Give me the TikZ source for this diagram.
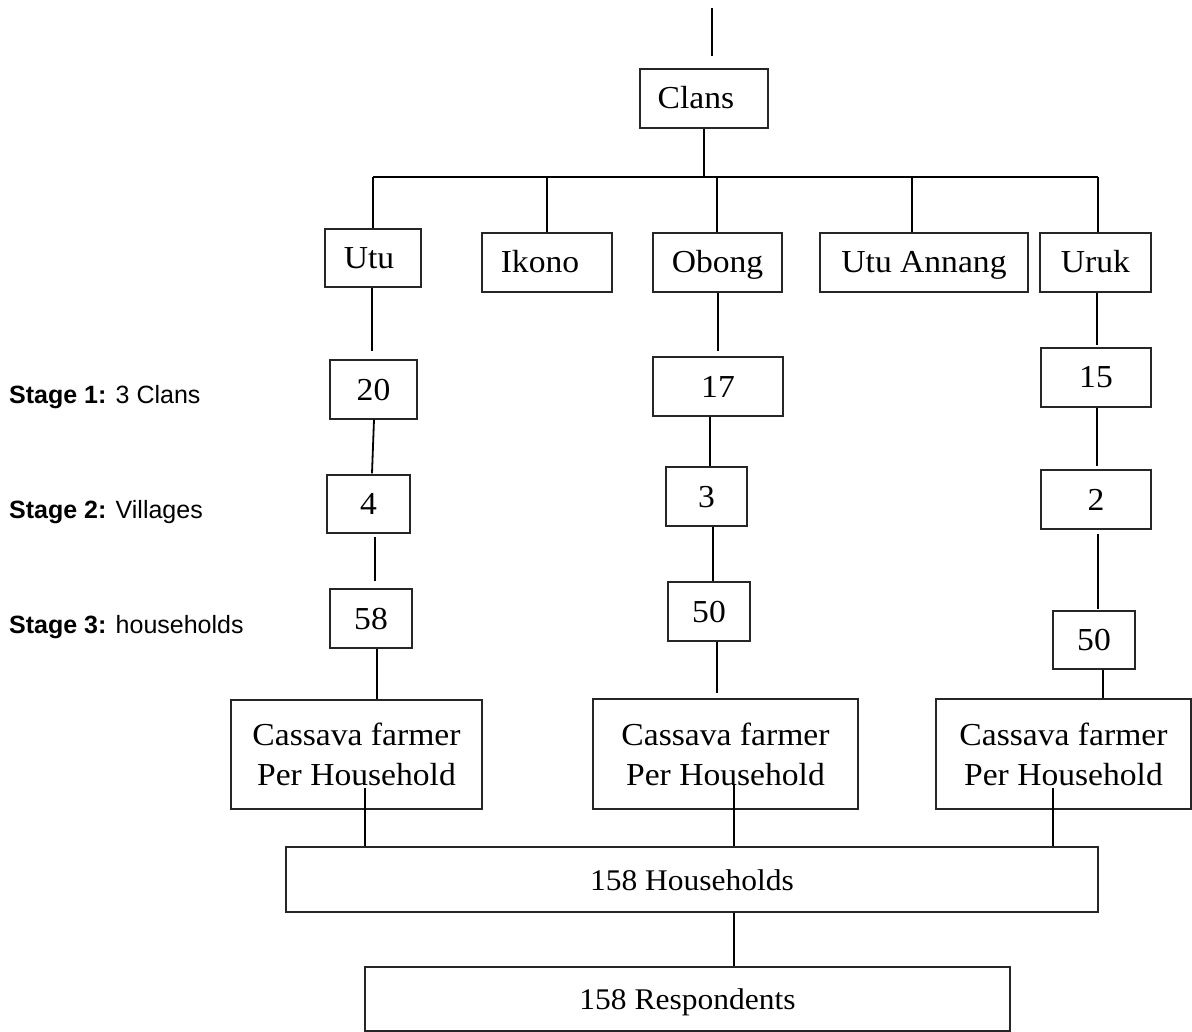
\documentclass[tikz,border=0pt]{standalone}
\usepackage{fontspec}
\setmainfont[FakeStretch=1.05]{Liberation Serif}
\newfontfamily\arialf{Liberation Sans}
\begin{document}
\begin{tikzpicture}[x=1pt,y=-1pt,
  box/.style={draw=black!85, line width=1.3pt, inner sep=0pt, text height=21pt, text depth=0pt, font=\fontsize{32}{38}\selectfont},
  widebox/.style={box, font=\fontsize{30}{36}\selectfont},
  twoline/.style={draw=black!85, line width=1.3pt, inner sep=0pt, align=center, font=\fontsize{32}{40}\selectfont},
  conn/.style={line width=1.8pt, black},
  stage/.style={anchor=base west, inner sep=0pt, font=\arialf\fontsize{25}{30}\selectfont}]
\useasboundingbox (0,0) rectangle (1192,1032);

% top level
\node[box, minimum width=128pt, minimum height=59pt] (clans) at (704,98.5) {Clans\hspace*{16pt}};
\node[box, minimum width=96pt, minimum height=58pt] (utu) at (373,258) {Utu\hspace*{8pt}};
\node[box, minimum width=130pt, minimum height=59pt] (ikono) at (547,262.5) {Ikono\hspace*{14pt}};
\node[box, minimum width=129pt, minimum height=59pt] (obong) at (717.5,262.5) {Obong};
\node[box, minimum width=208pt, minimum height=59pt] (ua) at (924,262.5) {Utu Annang};
\node[box, minimum width=111pt, minimum height=59pt] (uruk) at (1095.5,262.5) {Uruk};

% Utu column
\node[box, minimum width=87pt, minimum height=59pt] (u20) at (373.5,389.5) {20};
\node[box, minimum width=83pt, minimum height=58pt] (u4) at (368.5,504) {4};
\node[box, minimum width=82pt, minimum height=59pt] (u58) at (371,618.5) {58};
\node[twoline, minimum width=251pt, minimum height=109pt] (cf1) at (356.5,754.5) {Cassava farmer\\Per Household};

% Obong column
\node[box, minimum width=130pt, minimum height=59pt] (o17) at (718,386.5) {17};
\node[box, minimum width=81pt, minimum height=59pt] (o3) at (706.5,496.5) {3};
\node[box, minimum width=82pt, minimum height=59pt] (o50) at (709,611.5) {50};
\node[twoline, minimum width=265pt, minimum height=110pt] (cf2) at (725.5,754) {Cassava farmer\\Per Household};

% Uruk column
\node[box, minimum width=110pt, minimum height=59pt] (r15) at (1096,377.5) {15};
\node[box, minimum width=110pt, minimum height=59pt] (r2) at (1096,499.5) {2};
\node[box, minimum width=82pt, minimum height=58pt] (r50) at (1094,640) {50};
\node[twoline, minimum width=255pt, minimum height=110pt] (cf3) at (1063.5,754) {Cassava farmer\\Per Household};

% bottom
\node[widebox, minimum width=812pt, minimum height=65pt] (hh) at (692,879.5) {158 Households};
\node[widebox, minimum width=645pt, minimum height=64pt] (resp) at (687.5,999) {158 Respondents};

% stage labels
\node[stage] (s1) at (9,403) {\textbf{Stage 1:} 3 Clans};
\node[stage] (s2) at (9,518) {\textbf{Stage 2:} Villages};
\node[stage] (s3) at (9,633) {\textbf{Stage 3:} households};

% connectors: top
\coordinate (t0) at (712,8);
\draw[conn] (t0) -- ([xshift=8pt,yshift=12pt]clans.north);
\coordinate (hl) at (373,177);
\coordinate (hr) at (1098,177);
\draw[conn] (clans.south) -- (clans.south |- hl);
\draw[conn] (hl) -- (hr);
\draw[conn] (hl) -- (utu.north);
\draw[conn] (ikono.north |- hl) -- (ikono.north);
\draw[conn] ([xshift=-0.5pt]obong.north |- hl) -- ([xshift=-0.5pt]obong.north);
\draw[conn] ([xshift=-12pt]ua.north |- hl) -- ([xshift=-12pt]ua.north);
\draw[conn] ([xshift=2.5pt]uruk.north |- hl) -- ([xshift=2.5pt]uruk.north);

% Utu column connectors
\draw[conn] ([xshift=-1pt]utu.south) -- ([xshift=-1.5pt,yshift=8pt]u20.north);
\draw[conn] ([xshift=0.5pt]u20.south) -- ([xshift=3.5pt,yshift=1pt]u4.north);
\draw[conn] ([xshift=6.5pt,yshift=-3pt]u4.south) -- ([xshift=4pt,yshift=7pt]u58.north);
\draw[conn] ([xshift=6pt]u58.south) -- ([xshift=20.5pt]cf1.north);
\draw[conn] ([xshift=8.5pt,yshift=-33.5pt]cf1.center) coordinate (i1) -- (i1 |- hh.north);

% Obong column connectors
\draw[conn] ([xshift=0.5pt]obong.south) -- ([yshift=5pt]o17.north);
\draw[conn] ([xshift=-8pt]o17.south) -- ([xshift=3.5pt]o3.north);
\draw[conn] ([xshift=6.5pt]o3.south) -- ([xshift=4pt]o50.north);
\draw[conn] ([xshift=8pt]o50.south) -- ([xshift=-8.5pt,yshift=5pt]cf2.north);
\draw[conn] ([xshift=8.5pt,yshift=-30pt]cf2.center) coordinate (i2) -- (i2 |- hh.north);

% Uruk column connectors
\draw[conn] ([xshift=1.5pt]uruk.south) -- ([xshift=1pt,yshift=2pt]r15.north);
\draw[conn] ([xshift=1pt]r15.south) -- ([xshift=1pt,yshift=3pt]r2.north);
\draw[conn] ([xshift=2pt,yshift=-4pt]r2.south) -- ([xshift=4pt,yshift=1pt]r50.north);
\draw[conn] ([xshift=9pt]r50.south) coordinate (r50b) -- (r50b |- cf3.north);
\draw[conn] ([xshift=-10.5pt,yshift=-34pt]cf3.center) coordinate (i3) -- (i3 |- hh.north);

% households to respondents
\draw[conn] ([xshift=42pt]hh.south) -- ([xshift=46.5pt]resp.north);
\end{tikzpicture}
\end{document}
